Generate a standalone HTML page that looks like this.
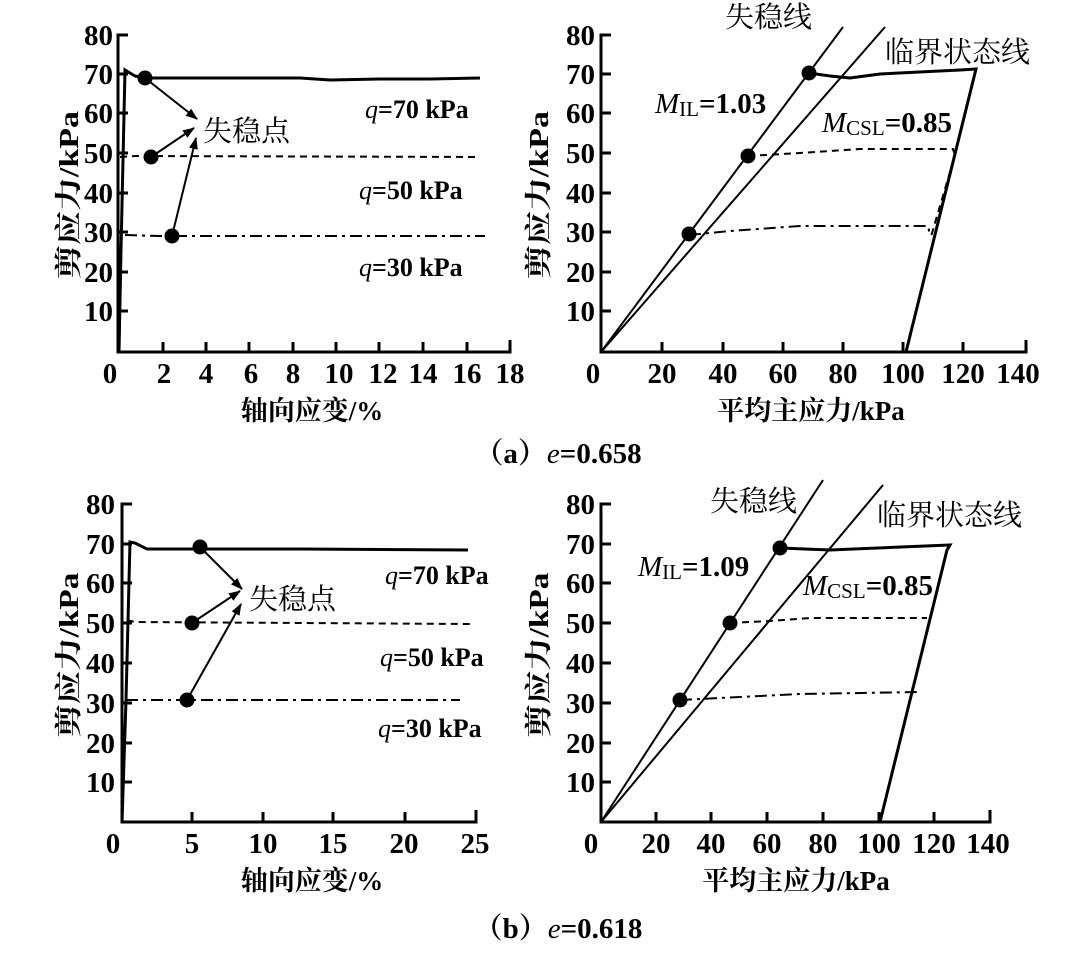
<!DOCTYPE html>
<html><head><meta charset="utf-8"><style>
html,body{margin:0;padding:0;background:#fff;}
svg{display:block;}
text{font-family:"Liberation Serif","Noto Serif CJK SC",serif;fill:#000;}
.t{font-size:29px;font-weight:bold;}
.c{font-family:"Liberation Serif","Noto Serif CJK SC",serif;font-size:29px;}
.cb{font-family:"Liberation Serif","Noto Serif CJK SC",serif;font-size:27px;font-weight:bold;}
.q{font-size:26px;font-weight:bold;}
.l{fill:none;stroke:#000;stroke-width:3;}
.th{fill:none;stroke:#000;stroke-width:2;}
.ax{fill:none;stroke:#000;stroke-width:3;}
</style></head><body>
<svg width="1065" height="967" viewBox="0 0 1065 967" xmlns="http://www.w3.org/2000/svg">
<defs><marker id="ar" markerWidth="12" markerHeight="9" refX="11" refY="4.5" orient="auto" markerUnits="userSpaceOnUse"><path d="M0,0 L12,4.5 L0,9 Z" fill="#000"/></marker></defs>

<!-- ===== Top-left ===== -->
<g>
<path class="ax" d="M128,35 H118 V352 H510 V340"/>
<g class="ax">
<path d="M118,74 h10 M118,113 h10 M118,153 h10 M118,193 h10 M118,232 h10 M118,272 h10 M118,311 h10"/>
<path d="M163,352 v-10 M206,352 v-10 M249,352 v-10 M293,352 v-10 M336,352 v-10 M379,352 v-10 M423,352 v-10 M467,352 v-10"/>
</g>
<g class="t" text-anchor="end">
<text x="113" y="45">80</text><text x="113" y="84">70</text><text x="113" y="123">60</text><text x="113" y="163">50</text><text x="113" y="203">40</text><text x="113" y="242">30</text><text x="113" y="282">20</text><text x="113" y="321">10</text>
</g>
<g class="t" text-anchor="middle">
<text x="110" y="383">0</text><text x="164" y="383">2</text><text x="206" y="383">4</text><text x="251" y="383">6</text><text x="293" y="383">8</text><text x="339" y="383">10</text><text x="383" y="383">12</text><text x="423" y="383">14</text><text x="467" y="383">16</text><text x="510" y="383">18</text>
</g>
<text class="cb" x="312" y="420" text-anchor="middle">轴向应变/%</text>
<text class="cb" transform="translate(78,195) rotate(-90)" text-anchor="middle" textLength="168" lengthAdjust="spacingAndGlyphs">剪应力/kPa</text>
<path class="l" d="M119,352 L121,250 L125,70 L135,76 L145,78 L300,78 L330,80 L380,79 L430,79 L480,78"/>
<path class="th" stroke-dasharray="7,5" d="M120,157 L135,156 L480,157"/>
<path class="th" stroke-dasharray="12,5,3,5" d="M125,235 L160,236 L485,236"/>
<circle cx="145" cy="78" r="7.5"/><circle cx="151" cy="157" r="7.5"/><circle cx="172" cy="236" r="7.5"/>
<path class="th" marker-end="url(#ar)" d="M145,78 L197,119"/>
<path class="th" marker-end="url(#ar)" d="M151,157 L194,128"/>
<path class="th" marker-end="url(#ar)" d="M172,236 L196,138"/>
<text class="c" x="203" y="141">失稳点</text>
<text class="q" x="365" y="118"><tspan font-style="italic" font-weight="normal">q</tspan>=70 kPa</text>
<text class="q" x="359" y="199"><tspan font-style="italic" font-weight="normal">q</tspan>=50 kPa</text>
<text class="q" x="359" y="276"><tspan font-style="italic" font-weight="normal">q</tspan>=30 kPa</text>
</g>

<!-- ===== Top-right ===== -->
<g>
<path class="ax" d="M611,35 H601 V352 H1026 V340"/>
<g class="ax">
<path d="M601,74 h10 M601,113 h10 M601,153 h10 M601,193 h10 M601,232 h10 M601,272 h10 M601,311 h10"/>
<path d="M662,352 v-10 M723,352 v-10 M783,352 v-10 M843,352 v-10 M903,352 v-10 M963,352 v-10"/>
</g>
<g class="t" text-anchor="end">
<text x="595" y="45">80</text><text x="595" y="84">70</text><text x="595" y="123">60</text><text x="595" y="163">50</text><text x="595" y="203">40</text><text x="595" y="242">30</text><text x="595" y="282">20</text><text x="595" y="321">10</text>
</g>
<g class="t" text-anchor="middle">
<text x="593" y="383">0</text><text x="662" y="383">20</text><text x="723" y="383">40</text><text x="783" y="383">60</text><text x="843" y="383">80</text><text x="903" y="383">100</text><text x="963" y="383">120</text><text x="1018" y="383">140</text>
</g>
<text class="cb" x="811" y="420" text-anchor="middle">平均主应力/kPa</text>
<text class="cb" transform="translate(548,195) rotate(-90)" text-anchor="middle" textLength="168" lengthAdjust="spacingAndGlyphs">剪应力/kPa</text>
<path class="th" d="M601,352 L843,27"/>
<path class="th" d="M601,352 L885,27"/>
<path class="l" d="M809,73 L830,76 L850,78 L880,74 L960,70 L976,69 L906,352"/>
<path class="th" stroke-dasharray="7,5" d="M748,156 L800,153 L860,149 L953,149 L955,155 L930,240"/>
<path class="th" stroke-dasharray="12,5,3,5" d="M689,235 L730,231 L800,226 L928,226 L930,235"/>
<circle cx="689" cy="234" r="7.5"/><circle cx="748" cy="156" r="7.5"/><circle cx="809" cy="73" r="7.5"/>
<text class="c" x="725" y="27">失稳线</text>
<text class="c" x="885" y="62">临界状态线</text>
<text x="655" y="113" font-size="29"><tspan font-style="italic">M</tspan><tspan font-size="21" dy="3">IL</tspan><tspan dy="-3" font-weight="bold">=1.03</tspan></text>
<text x="822" y="132" font-size="29"><tspan font-style="italic">M</tspan><tspan font-size="21" dy="3">CSL</tspan><tspan dy="-3" font-weight="bold">=0.85</tspan></text>
</g>

<text class="c" x="558" y="463" text-anchor="middle" font-weight="bold">（a）<tspan font-style="italic" font-weight="normal">e</tspan>=0.658</text>

<!-- ===== Bottom-left ===== -->
<g>
<path class="ax" d="M132,504 H122 V822 H476 V810"/>
<g class="ax">
<path d="M122,544 h10 M122,583 h10 M122,623 h10 M122,663 h10 M122,703 h10 M122,743 h10 M122,782 h10"/>
<path d="M192,822 v-10 M263,822 v-10 M333,822 v-10 M405,822 v-10"/>
</g>
<g class="t" text-anchor="end">
<text x="115" y="514">80</text><text x="115" y="554">70</text><text x="115" y="593">60</text><text x="115" y="633">50</text><text x="115" y="673">40</text><text x="115" y="713">30</text><text x="115" y="753">20</text><text x="115" y="792">10</text>
</g>
<g class="t" text-anchor="middle">
<text x="113" y="853">0</text><text x="192" y="853">5</text><text x="263" y="853">10</text><text x="333" y="853">15</text><text x="404" y="853">20</text><text x="475" y="853">25</text>
</g>
<text class="cb" x="312" y="890" text-anchor="middle">轴向应变/%</text>
<text class="cb" transform="translate(78,655) rotate(-90)" text-anchor="middle" textLength="165" lengthAdjust="spacingAndGlyphs">剪应力/kPa</text>
<path class="l" d="M122,822 L126,700 L130,542 L135,543 L147,549 L300,549 L468,550"/>
<path class="th" stroke-dasharray="7,5" d="M127,620 L135,622 L470,624"/>
<path class="th" stroke-dasharray="12,5,3,5" d="M126,700 L460,700"/>
<circle cx="200" cy="547" r="7.5"/><circle cx="192" cy="623" r="7.5"/><circle cx="187" cy="700" r="7.5"/>
<path class="th" marker-end="url(#ar)" d="M200,547 L242,589"/>
<path class="th" marker-end="url(#ar)" d="M192,623 L240,591"/>
<path class="th" marker-end="url(#ar)" d="M187,700 L241,604"/>
<text class="c" x="249" y="609">失稳点</text>
<text class="q" x="385" y="584"><tspan font-style="italic" font-weight="normal">q</tspan>=70 kPa</text>
<text class="q" x="380" y="666"><tspan font-style="italic" font-weight="normal">q</tspan>=50 kPa</text>
<text class="q" x="378" y="737"><tspan font-style="italic" font-weight="normal">q</tspan>=30 kPa</text>
</g>

<!-- ===== Bottom-right ===== -->
<g>
<path class="ax" d="M611,504 H601 V822 H990 V810"/>
<g class="ax">
<path d="M601,544 h10 M601,583 h10 M601,623 h10 M601,663 h10 M601,703 h10 M601,743 h10 M601,782 h10"/>
<path d="M656,822 v-10 M711,822 v-10 M767,822 v-10 M823,822 v-10 M879,822 v-10 M934,822 v-10"/>
</g>
<g class="t" text-anchor="end">
<text x="595" y="514">80</text><text x="595" y="554">70</text><text x="595" y="593">60</text><text x="595" y="633">50</text><text x="595" y="673">40</text><text x="595" y="713">30</text><text x="595" y="753">20</text><text x="595" y="792">10</text>
</g>
<g class="t" text-anchor="middle">
<text x="591" y="853">0</text><text x="656" y="853">20</text><text x="711" y="853">40</text><text x="767" y="853">60</text><text x="823" y="853">80</text><text x="879" y="853">100</text><text x="934" y="853">120</text><text x="988" y="853">140</text>
</g>
<text class="cb" x="796" y="890" text-anchor="middle">平均主应力/kPa</text>
<text class="cb" transform="translate(548,655) rotate(-90)" text-anchor="middle" textLength="165" lengthAdjust="spacingAndGlyphs">剪应力/kPa</text>
<path class="th" d="M601,822 L823,480"/>
<path class="th" d="M601,822 L883,485"/>
<path class="l" d="M780,548 L830,550 L950,545 L947,550 L880,822"/>
<path class="th" stroke-dasharray="7,5" d="M730,623 L770,621 L810,618 L927,618"/>
<path class="th" stroke-dasharray="12,5,3,5" d="M680,700 L720,698 L800,694 L920,692"/>
<circle cx="680" cy="700" r="7.5"/><circle cx="730" cy="623" r="7.5"/><circle cx="780" cy="548" r="7.5"/>
<text class="c" x="710" y="511">失稳线</text>
<text class="c" x="877" y="525">临界状态线</text>
<text x="638" y="576" font-size="29"><tspan font-style="italic">M</tspan><tspan font-size="21" dy="3">IL</tspan><tspan dy="-3" font-weight="bold">=1.09</tspan></text>
<text x="803" y="595" font-size="29"><tspan font-style="italic">M</tspan><tspan font-size="21" dy="3">CSL</tspan><tspan dy="-3" font-weight="bold">=0.85</tspan></text>
</g>

<text class="c" x="558" y="938" text-anchor="middle" font-weight="bold">（b）<tspan font-style="italic" font-weight="normal">e</tspan>=0.618</text>
</svg>
</body></html>
